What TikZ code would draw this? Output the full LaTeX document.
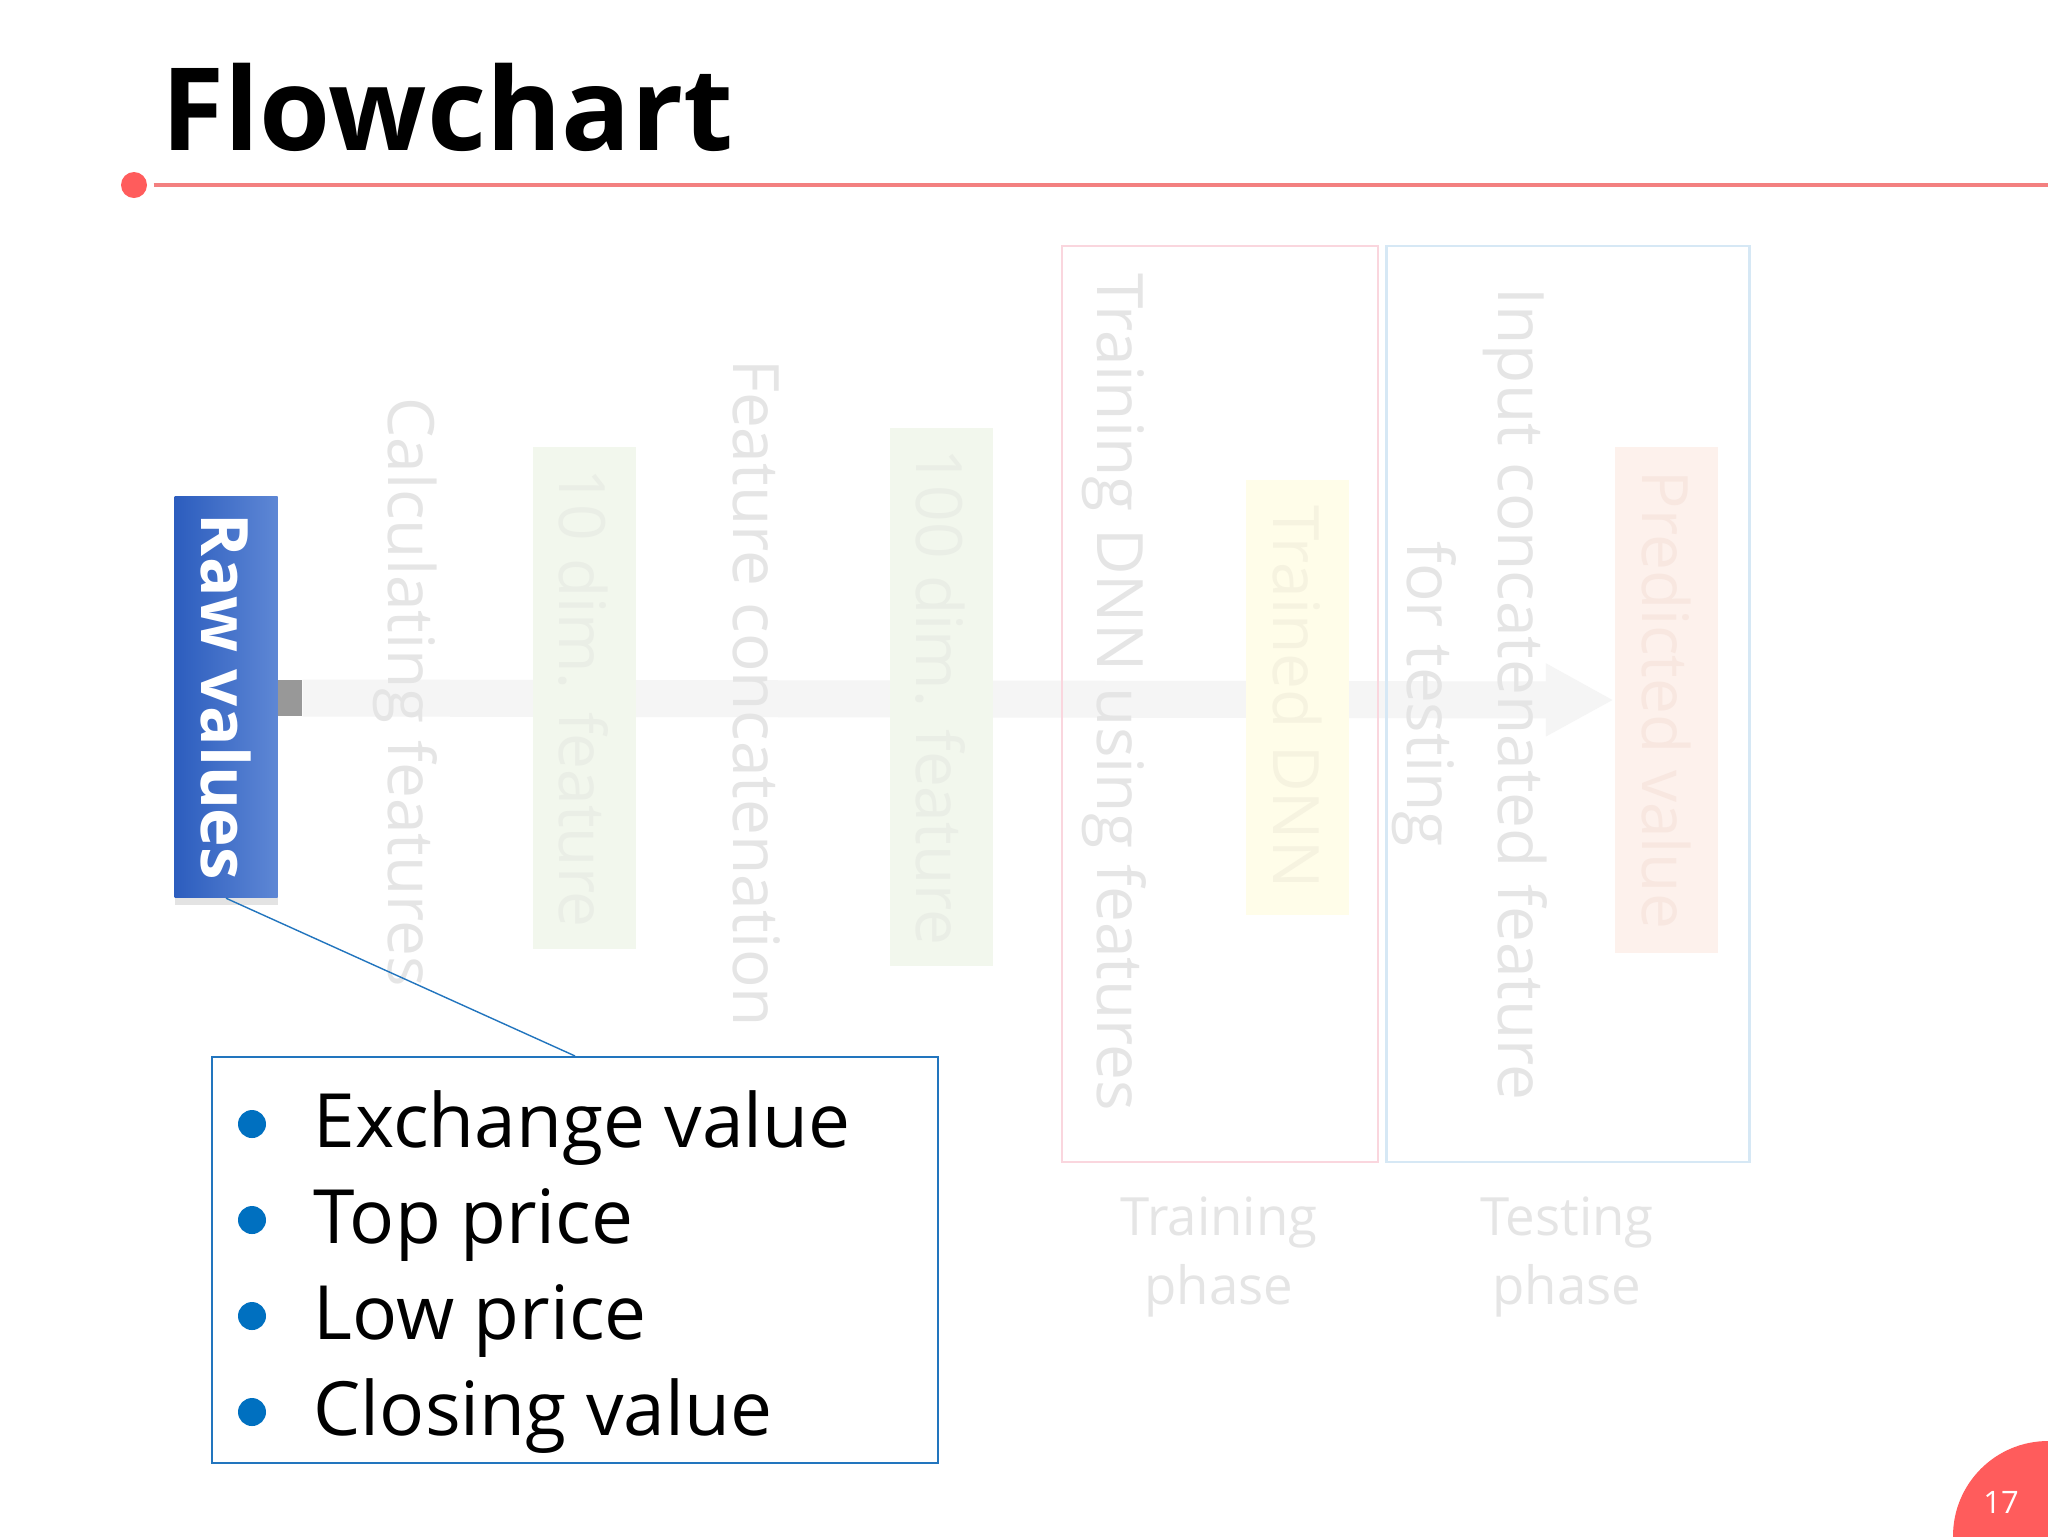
\documentclass[tikz,border=0pt]{standalone}
\usepackage{fontspec}
\setmainfont{Open Sans}
\usepackage{xcolor}
\usepackage{tikz}
\usetikzlibrary{arrows.meta}
\usetikzlibrary{shadows}

\definecolor{titlered}{RGB}{255,92,92}
\definecolor{rulered}{RGB}{243,128,128}
\definecolor{rawleft}{RGB}{44,93,190}
\definecolor{rawright}{RGB}{94,135,213}
\definecolor{listblue}{RGB}{34,117,190}
\definecolor{dotblue}{RGB}{0,112,192}
\definecolor{stubgray}{RGB}{152,152,152}
\definecolor{fadetext}{RGB}{229,229,229}
\definecolor{fadeband}{RGB}{245,245,245}
\definecolor{fadegreen}{RGB}{242,247,237}
\definecolor{fadegreentext}{RGB}{234,238,230}
\definecolor{fadeyellow}{RGB}{255,253,233}
\definecolor{fadeyellowtext}{RGB}{246,243,224}
\definecolor{fadeorange}{RGB}{253,241,236}
\definecolor{fadeorangetext}{RGB}{248,231,224}
\definecolor{fadepink}{RGB}{250,214,222}
\definecolor{fadeblue}{RGB}{214,232,245}

\pgfdeclarelayer{back}
\pgfsetlayers{back,main}

\begin{document}
\begin{tikzpicture}[x=0.1mm,y=-0.1mm,
		steptext/.style={rotate=-90,text=fadetext,align=center,inner sep=0pt,font=\fontsize{18.2}{25.9}\selectfont},
		fadebox/.style={minimum width=10.3mm,inner sep=0pt,font=\fontsize{18.2}{22}\selectfont},
		phasebox/.style={draw,line width=0.6pt,minimum height=91.6mm,inner sep=0pt},
		phase/.style={text=fadetext,align=center,inner sep=0pt,font=\fontsize{15}{19.6}\selectfont},
		bulletdot/.style={circle,fill=dotblue,minimum size=2.8mm,inner sep=0pt},
		entry/.style={anchor=base west,inner sep=0pt,font=\fontsize{21.3}{26}\selectfont}]
		\useasboundingbox (0,0) rectangle (2048,1536);
		\begin{pgfonlayer}{back}
			\fill[white] (0,0) rectangle (2048,1536);
		\end{pgfonlayer}
		
		\node[anchor=base west,inner sep=0pt,font=\bfseries\fontsize{32.7}{36}\selectfont] (title) at (161,150) {Flowchart};
		\node[circle,fill=titlered,minimum size=2.6mm,inner sep=0pt] (tdot) at (134,185) {};
		\coordinate (ruleend) at (2048,185);
		\draw[rulered,line width=1.1pt,shorten <=0.6mm] (tdot.east) -- (ruleend);
		
		\node[minimum width=10.3mm,minimum height=40.1mm,inner sep=0pt,left color=rawleft,right color=rawright,text=white,
			drop shadow={shadow xshift=0mm,shadow yshift=-0.7mm,opacity=0.22},font=\bfseries\fontsize{18.6}{22}\selectfont] (raw) at (226,697) {\rotatebox{-90}{Raw values}};
		\node[fill=stubgray,minimum width=2.4mm,minimum height=3.6mm,inner sep=0pt] (stub) at (290,698) {};
		
		\node[steptext] (calc) at (405,692) {Calculating features};
		\node[fadebox,fill=fadegreen,text=fadegreentext,minimum height=50.2mm] (feat10) at (584,698) {\rotatebox{-90}{10 dim. feature}};
		\node[steptext] (concat) at (757,693) {Feature concatenation};
		\node[fadebox,fill=fadegreen,text=fadegreentext,minimum height=53.8mm] (feat100) at (941,697) {\rotatebox{-90}{100 dim. feature}};
		
		\node[phasebox,draw=fadepink,minimum width=31.6mm] (train) at (1220,704) {};
		\node[phasebox,draw=fadeblue,minimum width=36.3mm] (test) at (1568,704) {};
		\node[steptext] (trainstep) at (1114,692) {Training DNN using features};
		\node[fadebox,fill=fadeyellow,text=fadeyellowtext,minimum height=43.5mm] (dnn) at (1297,697) {\rotatebox{-90}{Trained DNN}};
		\node[steptext] (teststep) at (1470,694) {Input concatenated feature\\for testing};
		\node[fadebox,fill=fadeorange,text=fadeorangetext,minimum height=50.6mm] (pred) at (1666,700) {\rotatebox{-90}{Predicted value}};
		\node[phase] (trainlbl) at (1219,1257) {Training\\phase};
		\node[phase] (testlbl) at (1567,1257) {Testing\\phase};
		
		\begin{pgfonlayer}{back}
			\draw[fadeband,line width=3.7mm,-{Triangle[length=6.8mm,width=6.8mm]}] (stub.east) -- (pred.west);
		\end{pgfonlayer}
		
		\node[draw=listblue,line width=0.6pt,fill=white,minimum width=72.6mm,minimum height=40.6mm,inner sep=0pt] (list) at (575,1260) {};
		\draw[listblue,line width=0.4pt] (raw.south) -- (list.north);
		\foreach \lbl [count=\i] in {Exchange value,Top price,Low price,Closing value} {
			\node[bulletdot] (dot\i) at (252,{1124+96*(\i-1)}) {};
			\node[entry] (entry\i) at (313,{1147+96*(\i-1)}) {\lbl};
		}
		
		\fill[titlered] (2048,1536) circle[radius=9.5mm];
		\node[text=white,font=\fontsize{8.8}{10}\selectfont] (pagenum) at (2001,1502) {17};
	\end{tikzpicture}
\end{document}
